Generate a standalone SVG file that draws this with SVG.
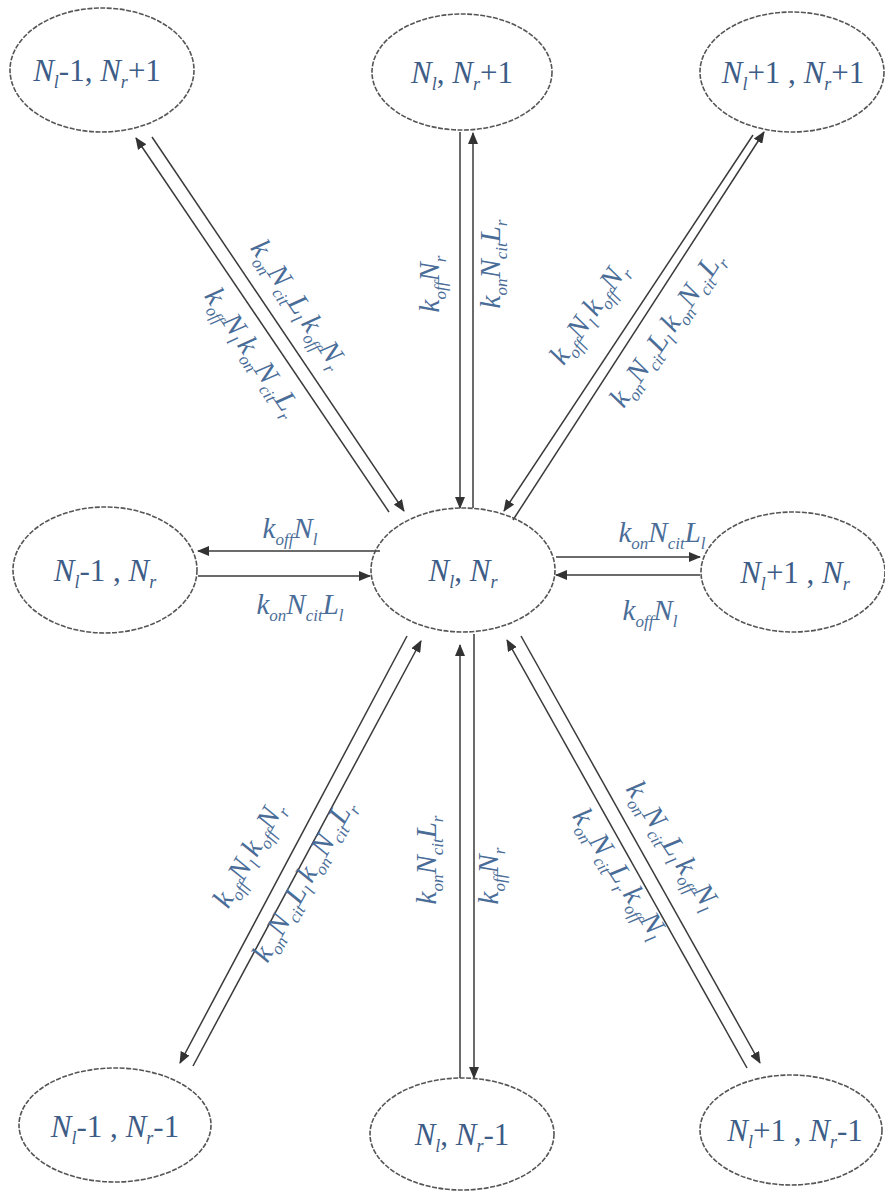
<svg xmlns="http://www.w3.org/2000/svg" width="885" height="1191" viewBox="0 0 885 1191">
<style>
.bg{fill:#ffffff}
.node ellipse{fill:none;stroke:#555;stroke-width:1.6;stroke-dasharray:5 1.5}
.nd{font-family:"Liberation Serif","Times New Roman",serif;font-size:31px;fill:#3d5c86;text-anchor:middle}
.nd .i{font-style:italic}
.nd .s{font-size:18px;font-style:italic}
.lb{font-family:"Liberation Serif","Times New Roman",serif;font-style:italic;font-size:29px;fill:#4a6d98;text-anchor:middle}
.lb .s{font-size:17px}
.ln{stroke:#3a3a3a;stroke-width:1.5;fill:none;marker-end:url(#ah)}
</style>
<defs>
<marker id="ah" markerWidth="12" markerHeight="10" refX="11" refY="5" orient="auto" markerUnits="userSpaceOnUse">
<path d="M0,0 L12,5 L0,10 z" fill="#333"/>
</marker>
</defs>
<rect class="bg" width="885" height="1191"/>

<g id="connectors">
<line class="ln" x1="460" y1="132" x2="460" y2="508"/>
<line class="ln" x1="473" y1="508" x2="473" y2="133"/>
<line class="ln" x1="460" y1="1078" x2="460" y2="645"/>
<line class="ln" x1="474" y1="634" x2="474" y2="1078"/>
<line class="ln" x1="380" y1="551" x2="198" y2="551"/>
<line class="ln" x1="198" y1="576" x2="370" y2="576"/>
<line class="ln" x1="556" y1="557" x2="700" y2="557"/>
<line class="ln" x1="700" y1="575" x2="556" y2="575"/>
<line class="ln" x1="389" y1="512" x2="136" y2="138"/>
<line class="ln" x1="152" y1="137" x2="404" y2="511"/>
<line class="ln" x1="753" y1="135" x2="504" y2="511"/>
<line class="ln" x1="513" y1="520" x2="764" y2="132"/>
<line class="ln" x1="407" y1="636" x2="180" y2="1063"/>
<line class="ln" x1="193" y1="1066" x2="421" y2="641"/>
<line class="ln" x1="747" y1="1068" x2="507" y2="640"/>
<line class="ln" x1="521" y1="636" x2="760" y2="1063"/>
</g>

<g id="labels">
<text class="lb" transform="translate(296,306) rotate(56)" y="6">k<tspan class="s" dy="7">on</tspan><tspan dy="-7">N</tspan><tspan class="s" dy="7">cit</tspan><tspan dy="-7">L</tspan><tspan class="s" dy="7">l</tspan><tspan dx="4" dy="-7">k</tspan><tspan class="s" dy="7">off</tspan><tspan dy="-7">N</tspan><tspan class="s" dy="7">r</tspan></text>
<text class="lb" transform="translate(250,354) rotate(56)" y="6">k<tspan class="s" dy="7">off</tspan><tspan dy="-7">N</tspan><tspan class="s" dy="7">l</tspan><tspan dx="4" dy="-7">k</tspan><tspan class="s" dy="7">on</tspan><tspan dy="-7">N</tspan><tspan class="s" dy="7">cit</tspan><tspan dy="-7">L</tspan><tspan class="s" dy="7">r</tspan></text>
<text class="lb" transform="translate(433,284) rotate(-90)" y="6">k<tspan class="s" dy="7">off</tspan><tspan dy="-7">N</tspan><tspan class="s" dy="7">r</tspan></text>
<text class="lb" transform="translate(494,264) rotate(-90)" y="6">k<tspan class="s" dy="7">on</tspan><tspan dy="-7">N</tspan><tspan class="s" dy="7">cit</tspan><tspan dy="-7">L</tspan><tspan class="s" dy="7">r</tspan></text>
<text class="lb" transform="translate(591,315) rotate(-56)" y="6">k<tspan class="s" dy="7">off</tspan><tspan dy="-7">N</tspan><tspan class="s" dy="7">l</tspan><tspan dx="4" dy="-7">k</tspan><tspan class="s" dy="7">off</tspan><tspan dy="-7">N</tspan><tspan class="s" dy="7">r</tspan></text>
<text class="lb" transform="translate(669,331) rotate(-56)" y="6">k<tspan class="s" dy="7">on</tspan><tspan dy="-7">N</tspan><tspan class="s" dy="7">cit</tspan><tspan dy="-7">L</tspan><tspan class="s" dy="7">l</tspan><tspan dx="4" dy="-7">k</tspan><tspan class="s" dy="7">on</tspan><tspan dy="-7">N</tspan><tspan class="s" dy="7">cit</tspan><tspan dy="-7">L</tspan><tspan class="s" dy="7">r</tspan></text>
<text class="lb" x="290" y="538">k<tspan class="s" dy="7">off</tspan><tspan dy="-7">N</tspan><tspan class="s" dy="7">l</tspan></text>
<text class="lb" x="300" y="614">k<tspan class="s" dy="7">on</tspan><tspan dy="-7">N</tspan><tspan class="s" dy="7">cit</tspan><tspan dy="-7">L</tspan><tspan class="s" dy="7">l</tspan></text>
<text class="lb" x="662" y="542">k<tspan class="s" dy="7">on</tspan><tspan dy="-7">N</tspan><tspan class="s" dy="7">cit</tspan><tspan dy="-7">L</tspan><tspan class="s" dy="7">l</tspan></text>
<text class="lb" x="650" y="620">k<tspan class="s" dy="7">off</tspan><tspan dy="-7">N</tspan><tspan class="s" dy="7">l</tspan></text>
<text class="lb" transform="translate(251,856) rotate(-61)" y="6">k<tspan class="s" dy="7">off</tspan><tspan dy="-7">N</tspan><tspan class="s" dy="7">l</tspan><tspan dx="4" dy="-7">k</tspan><tspan class="s" dy="7">off</tspan><tspan dy="-7">N</tspan><tspan class="s" dy="7">r</tspan></text>
<text class="lb" transform="translate(306,882) rotate(-61)" y="6">k<tspan class="s" dy="7">on</tspan><tspan dy="-7">N</tspan><tspan class="s" dy="7">cit</tspan><tspan dy="-7">L</tspan><tspan class="s" dy="7">l</tspan><tspan dx="4" dy="-7">k</tspan><tspan class="s" dy="7">on</tspan><tspan dy="-7">N</tspan><tspan class="s" dy="7">cit</tspan><tspan dy="-7">L</tspan><tspan class="s" dy="7">r</tspan></text>
<text class="lb" transform="translate(430,860) rotate(-90)" y="6">k<tspan class="s" dy="7">on</tspan><tspan dy="-7">N</tspan><tspan class="s" dy="7">cit</tspan><tspan dy="-7">L</tspan><tspan class="s" dy="7">r</tspan></text>
<text class="lb" transform="translate(492,876) rotate(-90)" y="6">k<tspan class="s" dy="7">off</tspan><tspan dy="-7">N</tspan><tspan class="s" dy="7">r</tspan></text>
<text class="lb" transform="translate(670,847) rotate(57)" y="6">k<tspan class="s" dy="7">on</tspan><tspan dy="-7">N</tspan><tspan class="s" dy="7">cit</tspan><tspan dy="-7">L</tspan><tspan class="s" dy="7">l</tspan><tspan dx="4" dy="-7">k</tspan><tspan class="s" dy="7">off</tspan><tspan dy="-7">N</tspan><tspan class="s" dy="7">l</tspan></text>
<text class="lb" transform="translate(617,875) rotate(57)" y="6">k<tspan class="s" dy="7">on</tspan><tspan dy="-7">N</tspan><tspan class="s" dy="7">cit</tspan><tspan dy="-7">L</tspan><tspan class="s" dy="7">r</tspan><tspan dx="4" dy="-7">k</tspan><tspan class="s" dy="7">off</tspan><tspan dy="-7">N</tspan><tspan class="s" dy="7">l</tspan></text>
</g>

<g id="n_tl" class="node"><ellipse cx="102" cy="70" rx="92" ry="62"/>
<text class="nd" x="97" y="81"><tspan class="i">N</tspan><tspan class="s" dy="7">l</tspan><tspan dy="-7">-1, </tspan><tspan class="i">N</tspan><tspan class="s" dy="7">r</tspan><tspan dy="-7">+1</tspan></text></g>
<g id="n_tm" class="node"><ellipse cx="462" cy="72" rx="90" ry="58"/>
<text class="nd" x="462" y="83"><tspan class="i">N</tspan><tspan class="s" dy="7">l</tspan><tspan dy="-7">, </tspan><tspan class="i">N</tspan><tspan class="s" dy="7">r</tspan><tspan dy="-7">+1</tspan></text></g>
<g id="n_tr" class="node"><ellipse cx="792" cy="72" rx="92" ry="60"/>
<text class="nd" x="793" y="83"><tspan class="i">N</tspan><tspan class="s" dy="7">l</tspan><tspan dy="-7">+1 , </tspan><tspan class="i">N</tspan><tspan class="s" dy="7">r</tspan><tspan dy="-7">+1</tspan></text></g>
<g id="n_ml" class="node"><ellipse cx="105" cy="570" rx="92" ry="63"/>
<text class="nd" x="105" y="581"><tspan class="i">N</tspan><tspan class="s" dy="7">l</tspan><tspan dy="-7">-1 , </tspan><tspan class="i">N</tspan><tspan class="s" dy="7">r</tspan></text></g>
<g id="n_c" class="node"><ellipse cx="463" cy="570" rx="92" ry="62"/>
<text class="nd" x="463" y="581"><tspan class="i">N</tspan><tspan class="s" dy="7">l</tspan><tspan dy="-7">, </tspan><tspan class="i">N</tspan><tspan class="s" dy="7">r</tspan></text></g>
<g id="n_mr" class="node"><ellipse cx="793" cy="572" rx="92" ry="60"/>
<text class="nd" x="795" y="583"><tspan class="i">N</tspan><tspan class="s" dy="7">l</tspan><tspan dy="-7">+1 , </tspan><tspan class="i">N</tspan><tspan class="s" dy="7">r</tspan></text></g>
<g id="n_bl" class="node"><ellipse cx="115" cy="1125" rx="96" ry="57"/>
<text class="nd" x="115" y="1137"><tspan class="i">N</tspan><tspan class="s" dy="7">l</tspan><tspan dy="-7">-1 , </tspan><tspan class="i">N</tspan><tspan class="s" dy="7">r</tspan><tspan dy="-7">-1</tspan></text></g>
<g id="n_bm" class="node"><ellipse cx="462" cy="1134" rx="92" ry="56"/>
<text class="nd" x="462" y="1145"><tspan class="i">N</tspan><tspan class="s" dy="7">l</tspan><tspan dy="-7">, </tspan><tspan class="i">N</tspan><tspan class="s" dy="7">r</tspan><tspan dy="-7">-1</tspan></text></g>
<g id="n_br" class="node"><ellipse cx="791" cy="1130" rx="91" ry="55"/>
<text class="nd" x="795" y="1141"><tspan class="i">N</tspan><tspan class="s" dy="7">l</tspan><tspan dy="-7">+1 , </tspan><tspan class="i">N</tspan><tspan class="s" dy="7">r</tspan><tspan dy="-7">-1</tspan></text></g>
</svg>
